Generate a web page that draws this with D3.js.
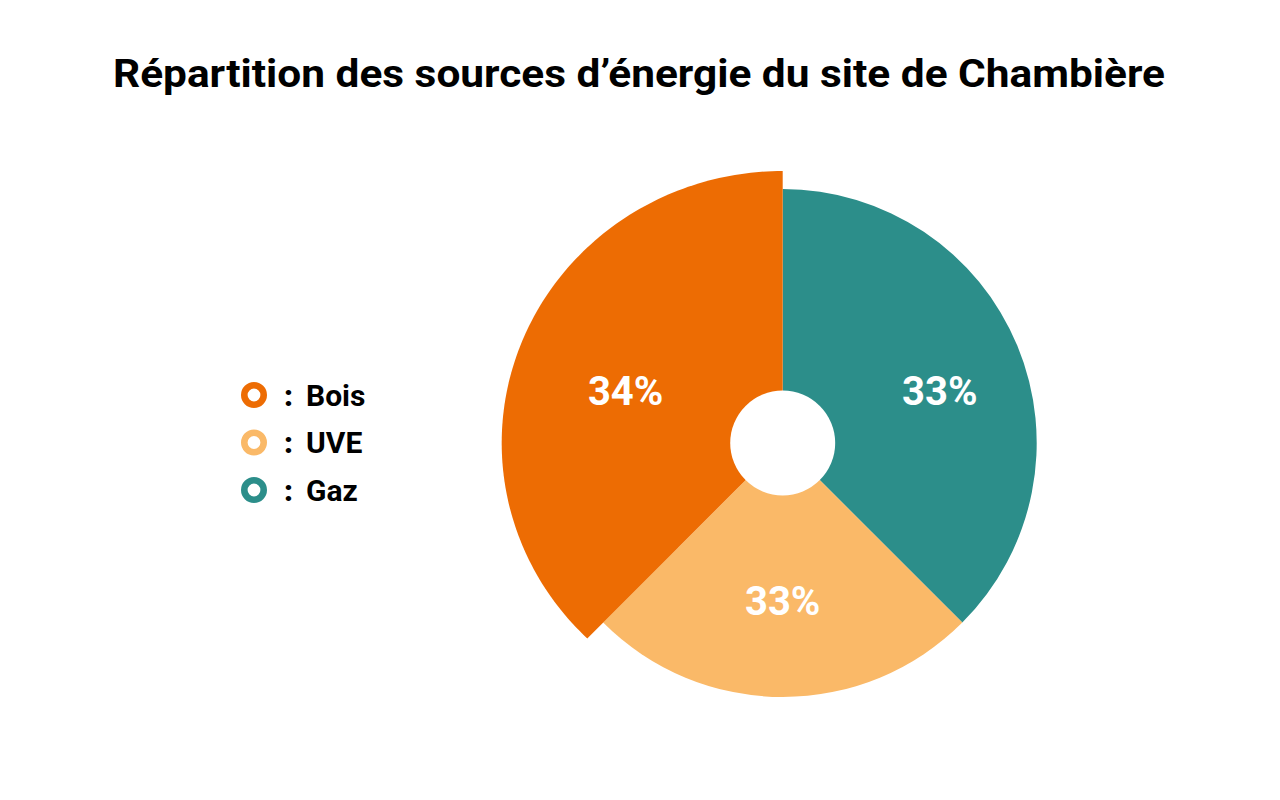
<!DOCTYPE html>
<html>
<head>
<meta charset="utf-8">
<script src="https://cdn.jsdelivr.net/npm/d3@7"></script>
<style>
  html, body { margin: 0; padding: 0; background: #fff; }
  svg { display: block; }
</style>
</head>
<body>
<svg id="chart" width="1280" height="800"></svg>
<script>
// ---- data ----
const title = "Répartition des sources d’énergie du site de Chambière";
const categories = ["Gaz", "UVE", "Bois"];          // drawing order, clockwise from top
const sliceShares = [37.5, 25, 37.5];               // angular share as drawn in the picture
const labels = ["33%", "33%", "34%"];               // printed percentages
const colors = ["#2C8E8A", "#FAB968", "#ED6C03"];
const legendOrder = ["Bois", "UVE", "Gaz"];

// ---- layout ----
const svg = d3.select("#chart");
const cx = 782.7, cy = 443;
const rOuter = 254, rInner = 52.5;
const boisRx = 281, boisRy = 272;   // highlighted slice drawn slightly larger

svg.append("text")
  .attr("x", 639).attr("y", 87)
  .attr("text-anchor", "middle")
  .attr("textLength", 1052).attr("lengthAdjust", "spacingAndGlyphs")
  .style("font-family", "Roboto, 'DejaVu Sans', sans-serif")
  .style("font-weight", 700)
  .style("font-size", "39px")
  .attr("fill", "#000")
  .text(title);

const data = categories.map((c, i) => ({ cat: c, value: sliceShares[i], label: labels[i], color: colors[i] }));
const pie = d3.pie().value(d => d.value).sort(null);
const arcs = pie(data);

const g = svg.append("g").attr("transform", `translate(${cx},${cy})`);

const arcNormal = d3.arc().innerRadius(0).outerRadius(rOuter);
const ellipseR = t => (boisRx * boisRy) / Math.sqrt(Math.pow(boisRy * Math.sin(t), 2) + Math.pow(boisRx * Math.cos(t), 2));
const radial = d3.lineRadial().angle(p => p[0]).radius(p => p[1]);
function boisPath(d) {
  const n = 120, pts = [[d.startAngle, 0]];
  for (let i = 0; i <= n; i++) {
    const t = d.startAngle + (d.endAngle - d.startAngle) * i / n;
    pts.push([t, ellipseR(t)]);
  }
  pts.push([d.endAngle, 0]);
  return radial(pts) + "Z";
}

g.selectAll("path.slice")
  .data(arcs)
  .join("path")
  .attr("class", "slice")
  .attr("d", d => d.data.cat === "Bois" ? boisPath(d) : arcNormal(d))
  .attr("fill", d => d.data.color);

g.append("circle").attr("r", rInner).attr("fill", "#fff");

g.selectAll("text.pct")
  .data(arcs)
  .join("text")
  .attr("class", "pct")
  .attr("transform", d => {
    const t = (d.startAngle + d.endAngle) / 2;
    const x = 170 * Math.sin(t);
    const y = -158 * Math.cos(t) + 10 * Math.abs(Math.sin(t));
    return `translate(${x},${y})`;
  })
  .attr("text-anchor", "middle")
  .attr("dominant-baseline", "central")
  .style("font-family", "Roboto, 'DejaVu Sans', sans-serif")
  .style("font-weight", 700)
  .style("font-size", "40px")
  .attr("fill", "#fff")
  .text(d => d.data.label);

// ---- legend ----
const legendY = d3.scalePoint().domain(legendOrder).range([395, 490]);
const colorOf = d3.scaleOrdinal().domain(categories).range(colors);
const leg = svg.append("g");
const items = leg.selectAll("g").data(legendOrder).join("g")
  .attr("transform", d => `translate(254,${legendY(d)})`);
items.append("circle").attr("r", 9.7).attr("fill", "none")
  .attr("stroke", d => colorOf(d)).attr("stroke-width", 6.6);
items.append("text")
  .attr("x", 30).attr("y", 0)
  .attr("dominant-baseline", "central")
  .style("font-family", "Roboto, 'DejaVu Sans', sans-serif")
  .style("font-weight", 900)
  .style("font-size", "30px")
  .attr("fill", "#000")
  .text(":");
items.append("text")
  .attr("x", 52).attr("y", 0)
  .attr("dominant-baseline", "central")
  .style("font-family", "Roboto, 'DejaVu Sans', sans-serif")
  .style("font-weight", 700)
  .style("font-size", "30px")
  .attr("fill", "#000")
  .text(d => d);
</script>
</body>
</html>
